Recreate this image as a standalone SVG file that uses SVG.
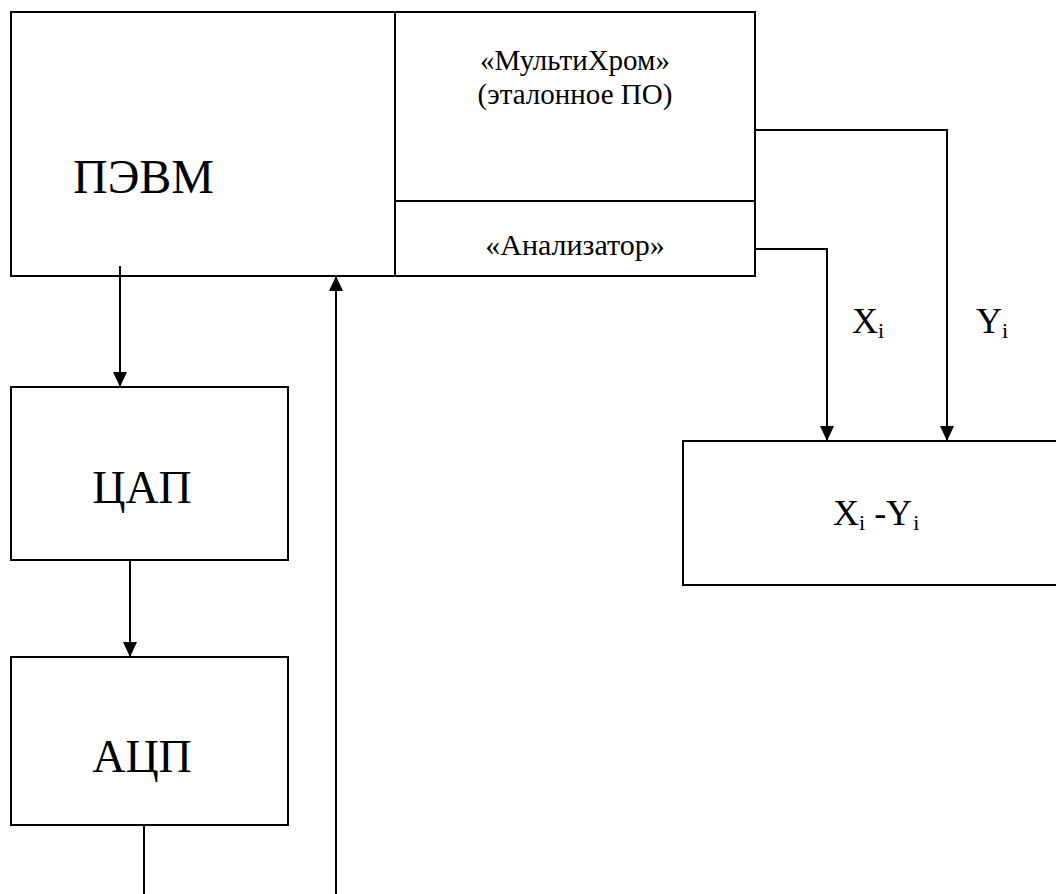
<svg xmlns="http://www.w3.org/2000/svg" width="1056" height="894" viewBox="0 0 1056 894">
<defs>
<marker id="ah" markerUnits="userSpaceOnUse" markerWidth="16" markerHeight="16" viewBox="0 0 16 16" refX="15" refY="8" orient="auto">
<path d="M0,1 L15,8 L0,15 Z" fill="#000"/>
</marker>
<style>
.box{fill:#fff;stroke:#000;stroke-width:2}
.ln{fill:none;stroke:#000;stroke-width:2}
text{fill:#000}
</style>
</defs>
<rect width="1056" height="894" fill="#fff"/>
<g font-family="'Liberation Serif', 'Times New Roman', serif">
<g id="pevm">
<rect class="box" x="11" y="12" width="744" height="264"/>
<line class="ln" x1="395" y1="12" x2="395" y2="276"/>
<line class="ln" x1="395" y1="201" x2="755" y2="201"/>
<text x="73" y="193" font-size="48">ПЭВМ</text>
</g>
<g id="multichrom">
<text x="575" y="70" font-size="29" text-anchor="middle">«МультиХром»</text>
<text x="575" y="104" font-size="29" text-anchor="middle">(эталонное ПО)</text>
</g>
<g id="analyzer">
<text x="575" y="255" font-size="30" text-anchor="middle">«Анализатор»</text>
</g>
<g id="dac">
<rect class="box" x="11" y="387" width="277" height="173"/>
<text x="142" y="503" font-size="46" text-anchor="middle">ЦАП</text>
</g>
<g id="adc">
<rect class="box" x="11" y="657" width="277" height="168"/>
<text x="142" y="772" font-size="46" text-anchor="middle">АЦП</text>
</g>
<g id="diff">
<rect class="box" x="683" y="441" width="400" height="144"/>
<text x="833" y="525" font-size="36">X<tspan font-size="22" dy="5">i</tspan><tspan dy="-5"> -Y</tspan><tspan font-size="22" dx="1" dy="5">i</tspan></text>
</g>
<g id="connectors">
<line class="ln" x1="120" y1="266" x2="120" y2="387" marker-end="url(#ah)"/>
<line class="ln" x1="130" y1="560" x2="130" y2="657" marker-end="url(#ah)"/>
<line class="ln" x1="144" y1="825" x2="144" y2="894"/>
<line class="ln" x1="336" y1="894" x2="336" y2="276" marker-end="url(#ah)"/>
<polyline class="ln" points="755,249 827,249 827,441" marker-end="url(#ah)"/>
<polyline class="ln" points="755,130 947,130 947,441" marker-end="url(#ah)"/>
<text x="852" y="333" font-size="36">X<tspan font-size="22" dy="5">i</tspan></text>
<text x="976" y="333" font-size="36">Y<tspan font-size="22" dy="5">i</tspan></text>
</g>
</g>
</svg>
